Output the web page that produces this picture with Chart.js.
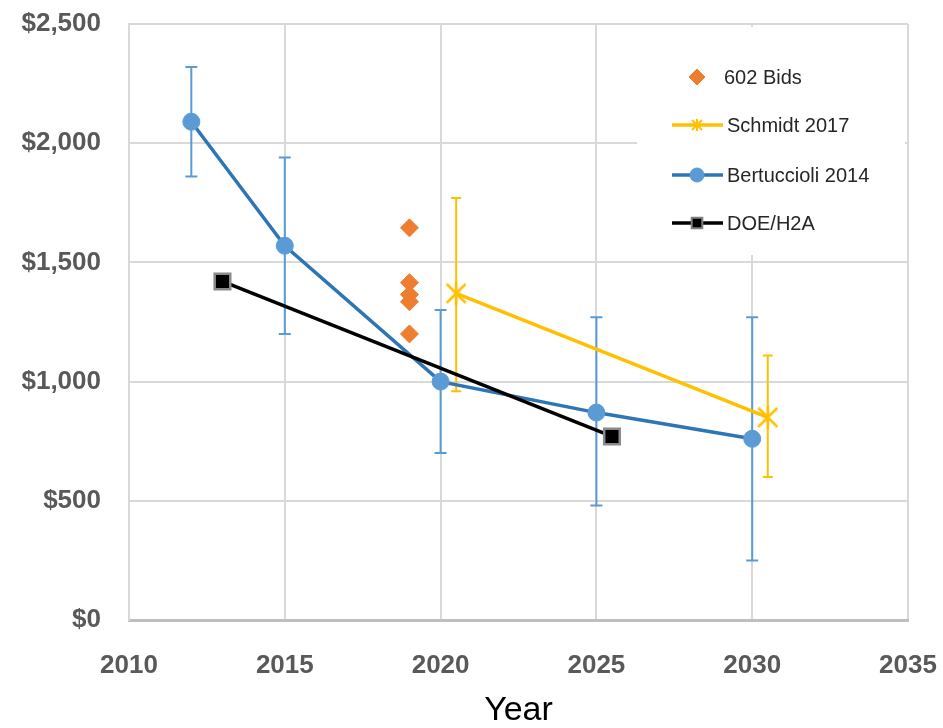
<!DOCTYPE html>
<html>
<head>
<meta charset="utf-8">
<script src="https://cdn.jsdelivr.net/npm/chart.js@4.4.1/dist/chart.umd.min.js"></script>
<style>
  html, body { margin: 0; padding: 0; background: #fff; }
</style>
</head>
<body>
<canvas id="chart" width="943" height="728"></canvas>
<script>
// values
const bidYears = [2019, 2019, 2019, 2019, 2019];
const bidCosts = [1645, 1415, 1365, 1335, 1200];

const schmidtYears = [2020.5, 2030.5];
const schmidtCosts = [1370, 850];
const schmidtHigh = [1770, 1110];
const schmidtLow = [960, 600];

const bertYears = [2012, 2015, 2020, 2025, 2030];
const bertCosts = [2090, 1570, 1000, 870, 760];
const bertHigh = [2320, 1940, 1300, 1270, 1270];
const bertLow = [1860, 1200, 700, 480, 250];

const doeYears = [2013, 2025.5];
const doeCosts = [1420, 770];

const yTicks = [0, 500, 1000, 1500, 2000, 2500];
const xTicks = [2010, 2015, 2020, 2025, 2030, 2035];

const toPoints = (xs, ys) => xs.map((x, i) => ({ x: x, y: ys[i] }));

// excel-like asterisk: an X plus a vertical stroke
function makeStar(size, lw) {
  const c = document.createElement("canvas");
  c.width = size;
  c.height = size;
  const g = c.getContext("2d");
  const h = size / 2;
  const r = h - lw;
  g.strokeStyle = "#ffc000";
  g.lineWidth = lw;
  g.beginPath();
  g.moveTo(h - r, h - r);
  g.lineTo(h + r, h + r);
  g.moveTo(h + r, h - r);
  g.lineTo(h - r, h + r);
  g.moveTo(h, h - r * 1.2);
  g.lineTo(h, h + r * 1.2);
  g.stroke();
  return c;
}
const bigStar = makeStar(24, 2.5);
const smallStar = makeStar(14, 2);

const errorSets = [
  { years: bertYears, high: bertHigh, low: bertLow, color: "#5b9bd5", cap: 6 },
  { years: schmidtYears, high: schmidtHigh, low: schmidtLow, color: "#ffc000", cap: 5 },
];

const legendItems = [
  { label: "602 Bids", line: null, style: "rectRot", radius: 8, fill: "#ed7d31", border: "#ed7d31", bw: 1 },
  { label: "Schmidt 2017", line: "#ffc000", style: smallStar, radius: 6, fill: "#ffc000", border: "#ffc000", bw: 2 },
  { label: "Bertuccioli 2014", line: "#2e75b6", style: "circle", radius: 7, fill: "#5b9bd5", border: "#5b9bd5", bw: 1 },
  { label: "DOE/H2A", line: "#000000", style: "rect", radius: 7.5, fill: "#000000", border: "#808080", bw: 2 },
];

const errorBars = {
  id: "errorBars",
  beforeDatasetsDraw(chart) {
    const ctx = chart.ctx;
    const xs = chart.scales.x;
    const ys = chart.scales.y;

    // white legend box sits over the grid
    ctx.save();
    ctx.fillStyle = "#ffffff";
    ctx.fillRect(637, 27, 268, 228);
    ctx.restore();

    errorSets.forEach((s) => {
      ctx.save();
      ctx.strokeStyle = s.color;
      ctx.lineWidth = 2;
      s.years.forEach((yr, i) => {
        const px = xs.getPixelForValue(yr);
        const top = ys.getPixelForValue(s.high[i]);
        const bot = ys.getPixelForValue(s.low[i]);
        ctx.beginPath();
        ctx.moveTo(px, top);
        ctx.lineTo(px, bot);
        ctx.moveTo(px - s.cap, top);
        ctx.lineTo(px + s.cap, top);
        ctx.moveTo(px - s.cap, bot);
        ctx.lineTo(px + s.cap, bot);
        ctx.stroke();
      });
      ctx.restore();
    });
  },
  afterDraw(chart) {
    const ctx = chart.ctx;
    const rows = [77, 125, 175, 223];
    legendItems.forEach((item, i) => {
      const y = rows[i];
      ctx.save();
      if (item.line) {
        ctx.strokeStyle = item.line;
        ctx.lineWidth = 3.5;
        ctx.beginPath();
        ctx.moveTo(672, y);
        ctx.lineTo(723, y);
        ctx.stroke();
      }
      ctx.fillStyle = item.fill;
      ctx.strokeStyle = item.border;
      ctx.lineWidth = item.bw;
      Chart.helpers.drawPoint(ctx, { pointStyle: item.style, radius: item.radius, borderWidth: item.bw }, 697, y);
      ctx.fillStyle = "#262626";
      ctx.font = "20px 'Liberation Sans', Arial, sans-serif";
      ctx.textBaseline = "middle";
      ctx.fillText(item.label, item.line ? 727 : 724, y + 1);
      ctx.restore();
    });
  },
};

const config = {
  type: "line",
  data: {
    datasets: [
      {
        label: "602 Bids",
        data: toPoints(bidYears, bidCosts),
        showLine: false,
        pointStyle: "rectRot",
        pointRadius: 9,
        backgroundColor: "#ed7d31",
        borderColor: "#ed7d31",
        pointBorderWidth: 1,
        order: 0,
      },
      {
        label: "DOE/H2A",
        data: toPoints(doeYears, doeCosts),
        borderColor: "#000000",
        borderWidth: 3.5,
        pointStyle: "rect",
        pointRadius: 11,
        pointBackgroundColor: "#000000",
        pointBorderColor: "#8a8a8a",
        pointBorderWidth: 2.5,
        order: 1,
      },
      {
        label: "Schmidt 2017",
        data: toPoints(schmidtYears, schmidtCosts),
        borderColor: "#ffc000",
        borderWidth: 3.5,
        pointStyle: bigStar,
        pointRadius: 12,
        order: 2,
      },
      {
        label: "Bertuccioli 2014",
        data: toPoints(bertYears, bertCosts),
        borderColor: "#2e75b6",
        borderWidth: 3.5,
        pointStyle: "circle",
        pointRadius: 8.5,
        pointBackgroundColor: "#5b9bd5",
        pointBorderColor: "#5b9bd5",
        pointBorderWidth: 1,
        order: 3,
      },
    ],
  },
  options: {
    responsive: false,
    animation: false,
    layout: { padding: { top: 24, right: 35, left: 0, bottom: 0 } },
    plugins: {
      legend: { display: false },
      tooltip: { enabled: false },
    },
    scales: {
      x: {
        type: "linear",
        min: 2010,
        max: 2035,
        afterBuildTicks: (scale) => {
          scale.ticks = xTicks.map((v) => ({ value: v }));
        },
        afterFit: (scale) => {
          scale.height = 108;
          scale.paddingLeft = 0;
          scale.paddingRight = 0;
        },
        grid: { color: "#d9d9d9", lineWidth: 2, drawTicks: false },
        border: { color: "#bfbfbf", width: 3 },
        ticks: {
          padding: 30,
          color: "#595959",
          font: { family: "'Liberation Sans', Arial, sans-serif", size: 26, weight: "bold" },
          callback: (v) => String(v),
        },
        title: {
          display: true,
          text: "Year",
          color: "#000000",
          padding: { top: 0, bottom: 0 },
          font: { family: "'Liberation Sans', Arial, sans-serif", size: 34, lineHeight: 1 },
        },
      },
      y: {
        min: 0,
        max: 2500,
        afterBuildTicks: (scale) => {
          scale.ticks = yTicks.map((v) => ({ value: v }));
        },
        afterFit: (scale) => {
          scale.width = 129;
          scale.paddingTop = 0;
          scale.paddingBottom = 0;
        },
        grid: { color: "#d9d9d9", lineWidth: 2, drawTicks: false },
        border: { color: "#d9d9d9", width: 2 },
        ticks: {
          padding: 28,
          color: "#595959",
          font: { family: "'Liberation Sans', Arial, sans-serif", size: 26, weight: "bold" },
          callback: (v) => "$" + v.toLocaleString("en-US"),
        },
      },
    },
  },
  plugins: [errorBars],
};

new Chart(document.getElementById("chart"), config);
</script>
</body>
</html>
